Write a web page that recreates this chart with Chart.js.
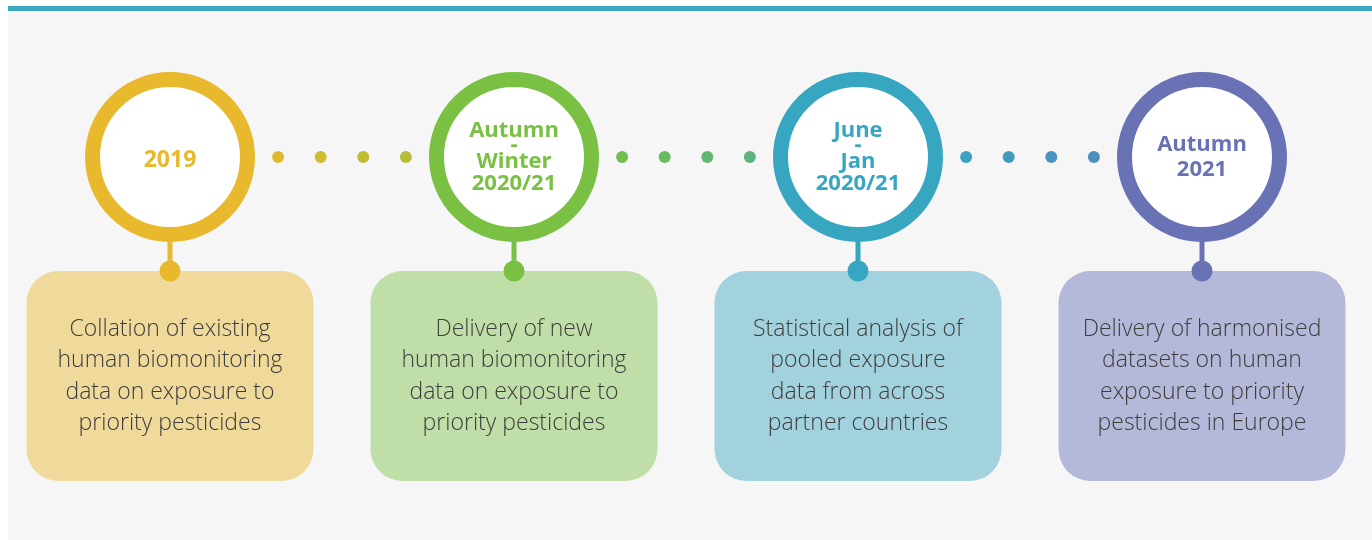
<!DOCTYPE html>
<html>
<head>
<meta charset="utf-8">
<script src="https://cdn.jsdelivr.net/npm/chart.js@4.4.1/dist/chart.umd.min.js"></script>
<style>
  html, body { margin: 0; padding: 0; background: #ffffff; }
  #wrap { width: 1372px; height: 540px; }
</style>
</head>
<body>
<div id="wrap"><canvas id="timeline" width="1372" height="540"></canvas></div>
<script>
/* globals Chart:false */

// Data
const periods = [
  ['2019'],
  ['Autumn', '-', 'Winter', '2020/21'],
  ['June', '-', 'Jan', '2020/21'],
  ['Autumn', '2021']
]
const descriptions = [
  ['Collation of existing', 'human biomonitoring', 'data on exposure to', 'priority pesticides'],
  ['Delivery of new', 'human biomonitoring', 'data on exposure to', 'priority pesticides'],
  ['Statistical analysis of', 'pooled exposure', 'data from across', 'partner countries'],
  ['Delivery of harmonised', 'datasets on human', 'exposure to priority', 'pesticides in Europe']
]
const ringColors = ['#e8b92c', '#79c043', '#37a6c1', '#6872b5']
const boxColors = ['#f0da9b', '#c0dea8', '#a3d2df', '#b5b9d9']

// Layout (pixels)
const CIRCLE_Y = 157
const BOX_TOP = 271
const BOX_H = 210
const BOX_W = 287
const BOX_R = 32
// vertical offsets of label line centres, by number of lines
const LINE_OFFSETS = { 1: [2], 2: [-14, 11], 4: [-27.5, -12, 3, 25] }

const hexToRgb = h => [1, 3, 5].map(i => parseInt(h.slice(i, i + 2), 16))
const mix = (a, b, t) => {
  const ca = hexToRgb(a), cb = hexToRgb(b)
  return 'rgb(' + ca.map((v, i) => Math.round(v + (cb[i] - v) * t)).join(',') + ')'
}

const timelinePlugin = {
  id: 'timeline',
  beforeDraw (chart) {
    const { ctx } = chart
    ctx.save()
    ctx.fillStyle = '#ffffff'
    ctx.fillRect(0, 0, 1372, 540)
    ctx.fillStyle = '#f6f6f6'
    ctx.fillRect(8, 11, 1364, 529)
    ctx.fillStyle = '#3aa8c1'
    ctx.fillRect(8, 6, 1364, 5)
    ctx.restore()
  },
  beforeDatasetsDraw (chart) {
    const { ctx, scales: { x, y } } = chart
    const cy = y.getPixelForValue(CIRCLE_Y)
    ctx.save()
    // connector dots, centred in each gap
    for (let i = 0; i < periods.length - 1; i++) {
      const mid = (x.getPixelForValue(i) + x.getPixelForValue(i + 1)) / 2
      for (let k = 0; k < 4; k++) {
        ctx.fillStyle = mix(ringColors[i], ringColors[i + 1], 0.1 + 0.12 * k)
        ctx.beginPath()
        ctx.arc(mid + (k - 1.5) * 42.6, cy, 6, 0, Math.PI * 2)
        ctx.fill()
      }
    }
    // boxes, stems
    periods.forEach((p, i) => {
      const cx = x.getPixelForValue(i)
      const top = y.getPixelForValue(BOX_TOP)
      ctx.fillStyle = boxColors[i]
      ctx.beginPath()
      ctx.roundRect(cx - BOX_W / 2, top, BOX_W, BOX_H, BOX_R)
      ctx.fill()
      ctx.strokeStyle = ringColors[i]
      ctx.lineWidth = 5
      ctx.beginPath()
      ctx.moveTo(cx, cy + 80)
      ctx.lineTo(cx, top)
      ctx.stroke()
      ctx.fillStyle = ringColors[i]
      ctx.beginPath()
      ctx.arc(cx, top, 10.5, 0, Math.PI * 2)
      ctx.fill()

      ctx.fillStyle = '#3d3d3d'
      ctx.font = '300 23px "Open Sans"'
      ctx.textAlign = 'center'
      ctx.textBaseline = 'middle'
      descriptions[i].forEach((line, j) => {
        ctx.fillText(line, cx, top + 58 + j * 31.6)
      })
    })
    ctx.restore()
  },
  afterDatasetsDraw (chart) {
    const { ctx, scales: { x, y } } = chart
    const cy = y.getPixelForValue(CIRCLE_Y)
    ctx.save()
    ctx.textAlign = 'center'
    ctx.textBaseline = 'alphabetic'
    periods.forEach((lines, i) => {
      const cx = x.getPixelForValue(i)
      const offs = LINE_OFFSETS[lines.length]
      ctx.fillStyle = ringColors[i]
      lines.forEach((l, j) => {
        const size = lines.length === 1 ? 23 : 22
        ctx.font = 'bold ' + size + 'px "Open Sans"'
        // centre caps / hyphen on the wanted line centre
        const lift = l === '-' ? 0.255 * size : 0.357 * size
        ctx.fillText(l, cx, cy + offs[j] + lift)
      })
    })
    ctx.restore()
  }
}

const ctx = document.getElementById('timeline')
// eslint-disable-next-line no-unused-vars
const chart = new Chart(ctx, {
  type: 'scatter',
  data: {
    datasets: [{
      data: periods.map((p, i) => ({ x: i, y: CIRCLE_Y })),
      clip: false,
      pointRadius: 77.5,
      pointHoverRadius: 77.5,
      pointBorderWidth: 15,
      pointHoverBorderWidth: 15,
      pointBackgroundColor: '#ffffff',
      pointBorderColor: ringColors,
      pointHoverBackgroundColor: '#ffffff',
      pointHoverBorderColor: ringColors
    }]
  },
  options: {
    responsive: false,
    animation: false,
    events: [],
    layout: { autoPadding: false, padding: { left: 170, right: 170, top: 0, bottom: 0 } },
    scales: {
      x: { type: 'linear', min: 0, max: 3, display: false },
      y: { type: 'linear', min: 0, max: 540, reverse: true, display: false }
    },
    plugins: {
      legend: { display: false },
      tooltip: { enabled: false }
    }
  },
  plugins: [timelinePlugin]
})
</script>
</body>
</html>
